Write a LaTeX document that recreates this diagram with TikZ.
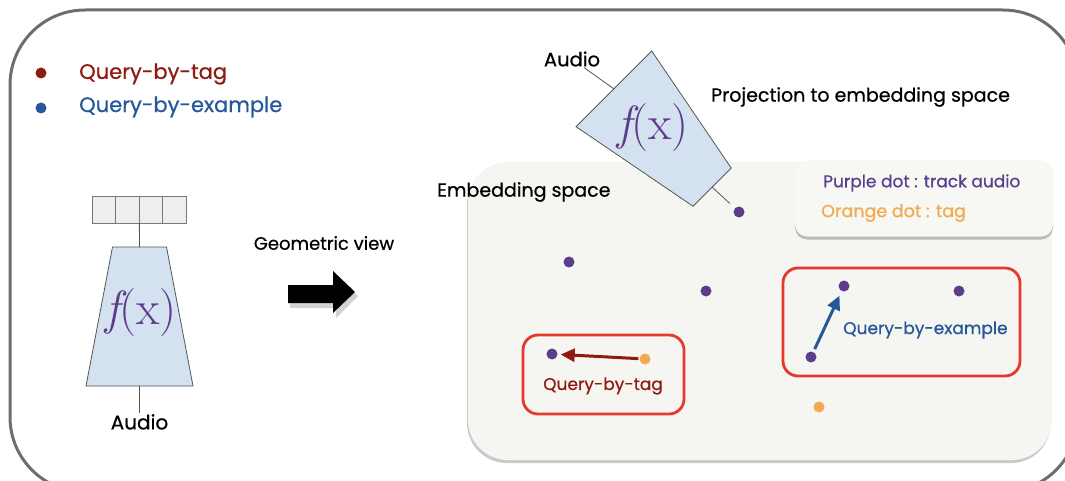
\documentclass[tikz,border=0pt]{standalone}
\usepackage{fontspec}
\newfontfamily\uifontbase{Poppins}[BoldFont={*}, BoldFeatures={FakeBold=0.6}]
\newcommand{\uifont}{\uifontbase\bfseries}
\newfontfamily\fxfont{Latin Modern Roman}
\usetikzlibrary{shadows,arrows.meta}
\definecolor{framegray}{HTML}{6E6E6E}
\definecolor{embfill}{HTML}{F5F5F1}
\definecolor{legfill}{HTML}{F7F7F3}
\definecolor{trapfill}{HTML}{D3E1F1}
\definecolor{trapline}{HTML}{555555}
\definecolor{fxpurple}{HTML}{5E3B8A}
\definecolor{dotpurple}{HTML}{5A3E8C}
\definecolor{dotorange}{HTML}{F2AA50}
\definecolor{tagred}{HTML}{8E1B12}
\definecolor{exblue}{HTML}{245899}
\definecolor{boxred}{HTML}{E53A2B}
\definecolor{cellfill}{HTML}{EEEEEE}
\tikzset{
  lbl/.style={font=\uifont\fontsize{18}{21}\selectfont, text=black, inner sep=1pt},
  bigq/.style={font=\uifont\fontsize{21}{24}\selectfont, inner sep=0pt, anchor=west},
  smq/.style={font=\uifont\fontsize{17}{20}\selectfont, inner sep=0pt},
  leg/.style={font=\uifont\fontsize{17}{20}\selectfont, inner sep=0pt, anchor=west},
  bullet/.style={circle, inner sep=0pt, minimum size=11},
  trapshape/.style={draw=trapline, line width=0.8pt, fill=trapfill},
  fx/.style={font=\fxfont\fontsize{48}{54}\selectfont, text=fxpurple, inner sep=0pt},
  cell/.style={rectangle, minimum width=23.5, minimum height=27, inner sep=0pt,
    draw=trapline!80, line width=0.7pt, fill=cellfill},
  wire/.style={draw=trapline, line width=0.8pt},
  pdot/.style={circle, fill=dotpurple, minimum size=11, inner sep=0pt},
  odot/.style={circle, fill=dotorange, minimum size=11, inner sep=0pt},
  qbox/.style={rectangle, rounded corners=15, draw=boxred, line width=2.8pt, inner sep=0pt},
  qarrow/.style={line width=3pt, -{Triangle[length=14pt, width=13pt]}},
}
\begin{document}
\begin{tikzpicture}[x=1pt, y=-1pt]
\useasboundingbox (0,0) rectangle (1065,481);
% outer frame
\draw[framegray, line width=3pt, rounded corners=75] (10,10) rectangle (1078,492);
% legend
\node[bullet, fill=tagred] (b1) at (41,73) {};
\node[bigq, text=tagred] (l1) at (79,74) {Query-by-tag};
\node[bullet, fill=exblue] (b2) at (41,108) {};
\node[bigq, text=exblue] (l2) at (79,107) {Query-by-example};
% left encoder
\node[cell] (c1) at (103.75,209.5) {};
\node[cell] (c2) at (127.25,209.5) {};
\node[cell] (c3) at (150.75,209.5) {};
\node[cell] (c4) at (174.25,209.5) {};
\begin{scope}[shift={(139.5,316.5)}]
  \draw[trapshape] (-27,-69.5) -- (27,-69.5) -- (53.5,69.5) -- (-53.5,69.5) -- cycle;
  \coordinate (t1n) at (0,-69.5);
  \coordinate (t1w) at (0,69.5);
\end{scope}
\node[fx] (f1) at (141,313) {\itshape f\upshape(x)};
\node[lbl, anchor=north, font=\uifont\fontsize{20}{24}\selectfont] (a1) at (139.5,413) {Audio};
\draw[wire] (c2.south east) -- (t1n);
\draw[wire] (t1w) -- (a1.north);
% geometric view
\node[lbl] (gv) at (324,243) {Geometric view};
\fill[black!35, opacity=0.5, xshift=2pt, yshift=-3pt] (288,286) -- (334,286) -- (334,272) -- (356,293) -- (334,315) -- (334,305) -- (288,305) -- cycle;
\fill[black] (288,285) -- (333,285) -- (333,271) -- (355,292) -- (333,313) -- (333,303) -- (288,303) -- cycle;
% embedding space
\node[rectangle, rounded corners=40, fill=embfill, minimum width=584, minimum height=298,
  drop shadow={shadow xshift=-1pt, shadow yshift=-3pt, opacity=0.35, fill=black!60}] (emb) at (760,311) {};
\node[lbl, anchor=west, font=\uifont\fontsize{19}{22}\selectfont] (es) at (436,192) {Embedding space};
% legend box
\node[rectangle, rounded corners=12, fill=legfill, minimum width=258, minimum height=76,
  drop shadow={shadow xshift=0pt, shadow yshift=-3pt, opacity=0.4, fill=black!60}] (lg) at (924,198.5) {};
\node[leg, text=dotpurple, font=\uifont\fontsize{17}{20}\selectfont] (lg1) at (823,183) {Purple dot : track audio};
\node[leg, text=dotorange, font=\uifont\fontsize{17.5}{20}\selectfont] (lg2) at (821,213) {Orange dot : tag};
% right encoder
\begin{scope}[shift={(663,138)}, rotate=-135]
  \draw[trapshape] (-27,-69.5) -- (27,-69.5) -- (53.5,69.5) -- (-53.5,69.5) -- cycle;
  \coordinate (t2n) at (0,-69.5);
  \coordinate (t2w) at (0,69.5);
\end{scope}
\node[fx] (f2) at (653,128) {\itshape f\upshape(x)};
\node[lbl, font=\uifont\fontsize{19.5}{22}\selectfont] (a2) at (572,59) {Audio};
\node[lbl, anchor=west, font=\uifont\fontsize{19}{22}\selectfont] (pr) at (710,97) {Projection to embedding space};
\node[pdot] (e0) at (739,212) {};
\draw[wire] (a2) -- (t2w);
\draw[wire, shorten >=7pt] (t2n) -- (e0);
% dots
\node[pdot] (e1) at (569,262) {};
\node[pdot] (e2) at (706,291) {};
\node[pdot] (e3) at (552,354) {};
\node[odot] (o1) at (645,359) {};
\node[pdot] (e4) at (844,286) {};
\node[pdot] (e5) at (959,291) {};
\node[pdot] (e6) at (811,357) {};
\node[odot] (o2) at (819,407) {};
% query boxes
\node[qbox, minimum width=161, minimum height=79] (qt) at (603.5,374.5) {};
\node[smq, text=tagred] (qtl) at (603,386) {Query-by-tag};
\draw[qarrow, draw=tagred, fill=tagred, shorten <=1pt, shorten >=3pt] (o1) -- (e3);
\node[qbox, minimum width=237, minimum height=108] (qe) at (901.5,322) {};
\node[smq, text=exblue, anchor=west] (qel) at (843,330) {Query-by-example};
\draw[qarrow, draw=exblue, fill=exblue, shorten <=3pt, shorten >=5pt] (e6) -- (e4);
\end{tikzpicture}
\end{document}
